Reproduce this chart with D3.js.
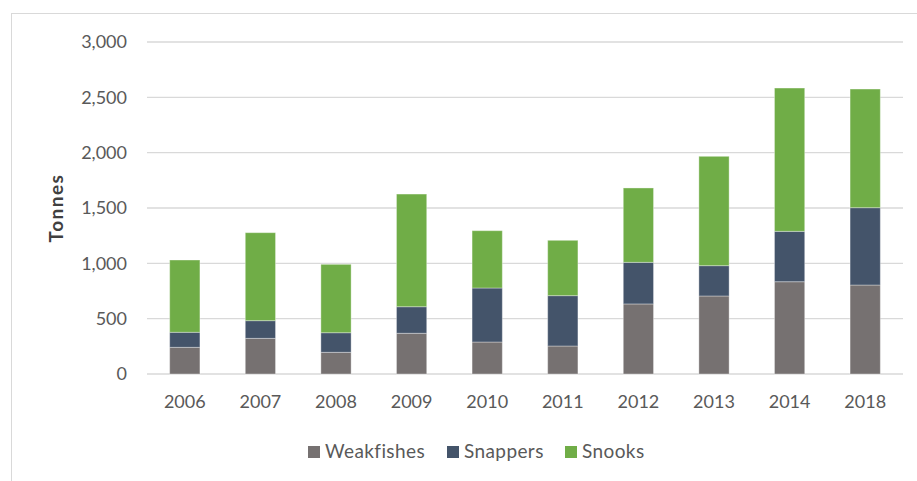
<!DOCTYPE html>
<html>
<head>
<meta charset="utf-8">
<script src="https://cdn.jsdelivr.net/npm/d3@7"></script>
<style>
  body { margin: 0; background: #fff; }
  svg { display: block; font-family: Lato, "Open Sans", sans-serif; }
</style>
</head>
<body>
<div id="chart"></div>
<script>
const years = ['2006', '2007', '2008', '2009', '2010', '2011', '2012', '2013', '2014', '2018']
const seriesNames = ['Weakfishes', 'Snappers', 'Snooks']
const weakfishes = [241, 322, 196, 368, 289, 253, 633, 705, 834, 804]
const snappers = [136, 160, 177, 240, 488, 455, 376, 274, 455, 699]
const snooks = [653, 795, 618, 1018, 518, 500, 672, 988, 1295, 1072]
const colors = ['#767171', '#44546a', '#70ad47']
const yTicks = [0, 500, 1000, 1500, 2000, 2500, 3000]

const width = 917
const height = 481
const margin = { top: 42, right: 14, bottom: 107, left: 147 }

const rows = years.map((y, i) => ({
  year: y,
  Weakfishes: weakfishes[i],
  Snappers: snappers[i],
  Snooks: snooks[i]
}))

const stacked = d3.stack().keys(seriesNames)(rows)

const svg = d3.select('#chart')
  .append('svg')
  .attr('width', width)
  .attr('height', height)

// outer chart frame (cut off at right and bottom like the source)
svg.append('rect')
  .attr('x', 11.5)
  .attr('y', 13.5)
  .attr('width', width + 10)
  .attr('height', height + 10)
  .attr('fill', 'none')
  .attr('stroke', '#d9d9d9')
  .attr('stroke-width', 1)

const x = d3.scaleBand()
  .domain(years)
  .range([margin.left, width - margin.right])
  .paddingInner(0.6)
  .paddingOuter(0.3)

const y = d3.scaleLinear()
  .domain([0, 3000])
  .range([height - margin.bottom, margin.top])

// gridlines
svg.append('g')
  .selectAll('line')
  .data(yTicks)
  .enter()
  .append('line')
  .attr('x1', margin.left)
  .attr('x2', width - margin.right)
  .attr('y1', d => y(d))
  .attr('y2', d => y(d))
  .attr('stroke', '#d9d9d9')
  .attr('stroke-width', 1.3)

// y tick labels
const fmt = d3.format(',')
svg.append('g')
  .selectAll('text')
  .data(yTicks)
  .enter()
  .append('text')
  .attr('x', 127)
  .attr('y', d => y(d))
  .attr('dy', '0.36em')
  .attr('text-anchor', 'end')
  .attr('fill', '#595959')
  .style('font-size', '18px')
  .text(d => fmt(d))

// bars
svg.append('g')
  .selectAll('g')
  .data(stacked)
  .enter()
  .append('g')
  .attr('fill', (d, i) => colors[i])
  .selectAll('rect')
  .data(d => d)
  .enter()
  .append('rect')
  .attr('x', d => x(d.data.year))
  .attr('width', x.bandwidth())
  .attr('y', d => y(d[1]))
  .attr('height', d => y(d[0]) - y(d[1]))
  .attr('stroke', '#ffffff')
  .attr('stroke-opacity', 0.35)
  .attr('stroke-width', 1)

// x labels
svg.append('g')
  .selectAll('text')
  .data(years)
  .enter()
  .append('text')
  .attr('x', d => x(d) + x.bandwidth() / 2)
  .attr('y', 408)
  .attr('text-anchor', 'middle')
  .attr('fill', '#595959')
  .style('font-size', '18px')
  .text(d => d)

// y axis title
svg.append('text')
  .attr('transform', 'translate(63,208) rotate(-90)')
  .attr('text-anchor', 'middle')
  .attr('fill', '#404040')
  .style('font-size', '19px')
  .style('font-weight', 'bold')
  .style('letter-spacing', '1.5px')
  .text('Tonnes')

// legend
const legendX = [308, 447, 565]
const legend = svg.append('g')
  .selectAll('g')
  .data(seriesNames)
  .enter()
  .append('g')
  .attr('transform', (d, i) => 'translate(' + legendX[i] + ',446)')

legend.append('rect')
  .attr('width', 12)
  .attr('height', 12)
  .attr('fill', (d, i) => colors[i])

legend.append('text')
  .attr('x', 17)
  .attr('y', 12)
  .attr('fill', '#595959')
  .style('font-size', '19px')
  .style('letter-spacing', '0.4px')
  .text(d => d)
</script>
</body>
</html>
